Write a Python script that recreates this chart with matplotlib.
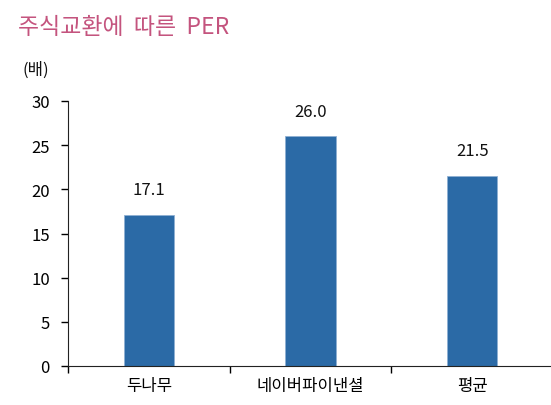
import matplotlib
matplotlib.use("Agg")
import matplotlib.pyplot as plt
import numpy as np

categories = ["두나무", "네이버파이낸셜", "평균"]
values = [17.1, 26.0, 21.5]
yticks = [0, 5, 10, 15, 20, 25, 30]

plt.rcParams['font.family'] = ['Noto Sans CJK KR', 'DejaVu Sans']

fig = plt.figure(figsize=(5.51, 4.06), dpi=100)
ax = fig.add_axes([68/551, 1-367/406, 1-66/551, (367-102)/406])

x = np.arange(len(categories))
ax.bar(x, values, width=0.31, color='#2b6aa6', edgecolor='#8fb0d3', linewidth=0.6, zorder=2)
for xi, v in zip(x, values):
    ax.annotate(f"{v:.1f}", (xi, v), xytext=(0, 12), textcoords='offset points',
                ha='center', va='bottom', fontsize=12, color='#111111')

ax.set_xlim(-0.5, len(categories) - 0.5)
ax.set_ylim(0, 30)
ax.set_yticks(yticks)
ax.set_yticklabels([str(t) for t in yticks], fontsize=12)
ax.set_xticks(x)
ax.set_xticklabels(categories, fontsize=12)
ax.set_xticks(np.arange(len(categories) + 1) - 0.5, minor=True)
ax.tick_params(axis='x', which='major', length=0, pad=8)
ax.tick_params(axis='x', which='minor', length=5, width=1, direction='out')
ax.tick_params(axis='y', length=5, width=1, direction='out', pad=8)
for s in ['top', 'right']:
    ax.spines[s].set_visible(False)
ax.spines['left'].set_color('#222222')
ax.spines['bottom'].set_color('#222222')

fig.text(18/551, 1-28/406, "주식교환에  따른  PER", fontsize=16.5, color='#c4547e', va='center', ha='left')
fig.text(22/551, 1-70/406, "(배)", fontsize=12, color='#111111', va='center', ha='left')

fig.savefig("out.png", dpi=100)
